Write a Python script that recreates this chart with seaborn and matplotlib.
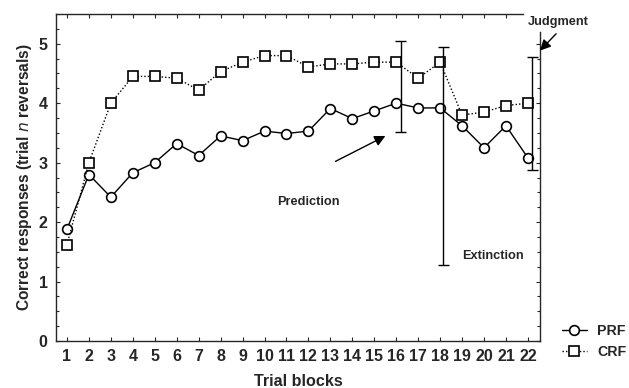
import pandas as pd
import matplotlib.pyplot as plt
import seaborn as sns
from matplotlib.ticker import MultipleLocator
from matplotlib.lines import Line2D

sns.set_style("ticks")
plt.rcParams["font.family"] = ["Liberation Sans", "DejaVu Sans"]

# Datos
bloques = list(range(1, 23))
prf = [1.88, 2.80, 2.42, 2.83, 3.00, 3.32, 3.12, 3.45, 3.37, 3.53, 3.49,
       3.53, 3.91, 3.74, 3.87, 4.00, 3.92, 3.92, 3.62, 3.25, 3.62, 3.08]
crf = [1.62, 3.00, 4.00, 4.45, 4.45, 4.42, 4.22, 4.53, 4.69, 4.80, 4.80,
       4.61, 4.66, 4.66, 4.69, 4.69, 4.42, 4.69, 3.80, 3.85, 3.96, 4.00]

# Barras de error (posición x, mínimo, máximo)
err_x = [16.2, 18.15, 22.2]
err_lo = [3.52, 1.28, 2.88]
err_hi = [5.05, 4.95, 4.78]

df = pd.DataFrame({
    "bloque": bloques * 2,
    "valor": prf + crf,
    "grupo": ["PRF"] * len(bloques) + ["CRF"] * len(bloques),
})

fig = plt.figure(figsize=(6.29, 3.88), dpi=100)
ax = fig.add_axes([0.089, 0.121, 0.7695, 0.843])

mk = dict(markerfacecolor="white", markeredgecolor="black", markeredgewidth=1.2,
          markersize=7, color="black", linewidth=1.0)
punteado = (0, (1, 1.5))
sns.lineplot(data=df[df.grupo == "PRF"], x="bloque", y="valor", marker="o",
             linestyle="-", ax=ax, **mk)
sns.lineplot(data=df[df.grupo == "CRF"], x="bloque", y="valor", marker="s",
             linestyle=punteado, ax=ax, **mk)

ax.vlines(err_x, err_lo, err_hi, color="black", linewidth=1.0)
ax.hlines(err_lo + err_hi, [x - 0.26 for x in err_x * 2], [x + 0.26 for x in err_x * 2],
          color="black", linewidth=1.0)

ax.set_xlim(0.5, 22.55)
ax.set_ylim(0, 5.5)
ax.set_xticks(bloques)
ax.set_yticks(range(0, 6))
ax.yaxis.set_minor_locator(MultipleLocator(0.25))
ax.tick_params(which="both", direction="in", top=True, right=True, width=0.8)
ax.tick_params(which="major", length=3, labelsize=11.5, pad=6)
ax.tick_params(which="minor", length=2)
for lab in ax.get_xticklabels() + ax.get_yticklabels():
    lab.set_fontweight("bold")
ax.spines["top"].set_bounds(0.5, 21.77)
ax.spines["right"].set_bounds(0, 5.2)
for s in ax.spines.values():
    s.set_linewidth(1.0)

ax.set_xlabel("Trial blocks", fontsize=11.6, fontweight="bold", labelpad=7)
ax.set_ylabel("Correct responses (trial $\\it{n}$ reversals)", fontsize=11.2,
              fontweight="bold", labelpad=3.5)

ax.text(12.0, 2.34, "Prediction", fontsize=9.2, fontweight="bold", ha="center", va="center")
ax.annotate("", xy=(15.62, 3.47), xytext=(13.12, 3.0),
            arrowprops=dict(arrowstyle="-|>", color="black", lw=1.0, mutation_scale=16))
ax.text(20.4, 1.43, "Extinction", fontsize=9.2, fontweight="bold", ha="center", va="center")
ax.annotate("", xy=(22.46, 4.85), xytext=(23.37, 5.2),
            arrowprops=dict(arrowstyle="-|>", color="black", lw=1.0, mutation_scale=16),
            annotation_clip=False)
ax.text(23.37, 5.37, "Judgment", fontsize=9.2, fontweight="bold", ha="center", va="center")

handles = [
    Line2D([], [], color="black", linestyle="-", marker="o", markerfacecolor="white",
           markeredgecolor="black", markeredgewidth=1.2, markersize=7, linewidth=1.0),
    Line2D([], [], color="black", linestyle=punteado, marker="s", markerfacecolor="white",
           markeredgecolor="black", markeredgewidth=1.2, markersize=7, linewidth=1.0),
]
ax.legend(handles, ["PRF", "CRF"], loc="center left", bbox_to_anchor=(0.893, 0.12),
          bbox_transform=fig.transFigure, frameon=False, handlelength=1.8,
          handletextpad=0.7, labelspacing=0.45, borderpad=0, borderaxespad=0,
          prop={"weight": "bold", "size": 10.2})

# ocultar marcas de los ejes superior/derecho fuera de sus límites
fig.canvas.draw()
for t in ax.xaxis.get_major_ticks():
    if t.get_loc() > 21.77:
        t.tick2line.set_visible(False)
for t in ax.yaxis.get_major_ticks() + ax.yaxis.get_minor_ticks():
    if t.get_loc() > 5.2:
        t.tick2line.set_visible(False)

fig.savefig("out.png", dpi=100)
